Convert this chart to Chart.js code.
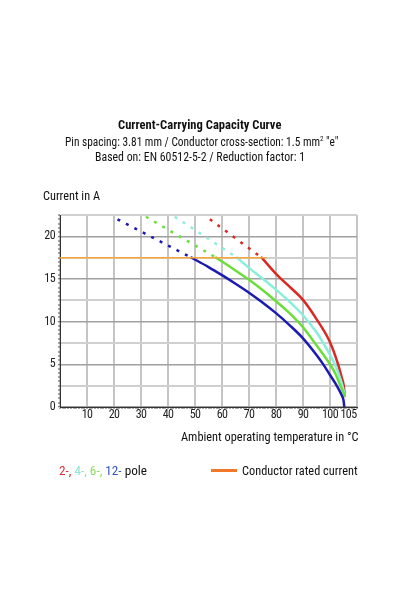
<!DOCTYPE html>
<html><head><meta charset="utf-8">
<script src="https://cdn.jsdelivr.net/npm/chart.js@4.4.1/dist/chart.umd.min.js"></script>
<style>
html,body{margin:0;padding:0;background:#fff;}
#wrap{position:relative;width:400px;height:600px;font-family:'Roboto Condensed',Roboto,'Liberation Sans',sans-serif;color:#111;}
#c{position:absolute;left:0;top:0;width:400px;height:600px;}
.t{position:absolute;white-space:nowrap;font-size:13px;line-height:16px;transform-origin:0 50%;}
</style></head><body>
<div id="wrap">
<canvas id="c" width="400" height="600"></canvas>
<span class="t" data-l="118.3" data-w="163.4" style="top:116.5px;font-weight:bold">Current-Carrying Capacity Curve</span>
<span class="t" data-l="65" data-w="273.3" style="top:134px">Pin spacing: 3.81 mm / Conductor cross-section: 1.5 mm<sup style="font-size:8px;line-height:0;vertical-align:5px">2</sup> "e"</span>
<span class="t" data-l="95" data-w="210" style="top:149px">Based on: EN 60512-5-2 / Reduction factor: 1</span>
<span class="t" data-l="43.3" data-w="57" style="top:188px">Current in A</span>
<span class="t" data-l="180.7" data-w="177.6" style="top:428.5px">Ambient operating temperature in °C</span>
<span class="t" data-l="59" data-w="88" style="top:462.5px"><span style="color:#d8303a">2-,</span> <span style="color:#8ee4d4">4-,</span> <span style="color:#88dd55">6-,</span> <span style="color:#3355bb">12-</span> pole</span>
<div style="position:absolute;left:210.7px;top:469px;width:26px;height:2.5px;background:#f07828"></div>
<span class="t" data-l="241.7" data-w="115.6" style="top:462.5px">Conductor rated current</span>
</div>
<script>
// x: ambient temperature (°C), y: current (A)
const xTickLabels = [10,20,30,40,50,60,70,80,90,100,105];
const ratedX = [0, 76.5];
const ratedY = [17.5, 17.5];

const pole2X = [74.7, 80, 85, 90, 95, 100, 103, 104.3, 105.1, 105.5];
const pole2Y = [17.5, 15.6, 14.1, 12.55, 10.3, 7.6, 5.0, 3.5, 2.5, 1.3];
const pole4X = [65.6, 70, 75, 80, 85, 90, 95, 97.5, 100, 101.8, 103.5, 104.6, 105.5];
const pole4Y = [17.5, 16.3, 15.05, 13.75, 12.35, 10.75, 8.75, 7.5, 6.1, 5.0, 3.6, 2.5, 1.3];
const pole6X = [57.8, 60, 65, 70, 75, 80, 85, 90, 94.4, 97.5, 100.3, 102, 103.7, 105.5];
const pole6Y = [17.5, 17.05, 16.0, 14.9, 13.7, 12.4, 11.0, 9.35, 7.5, 6.15, 4.85, 3.9, 2.6, 1.3];
const pole12X = [48.7, 55, 60, 65, 70, 75, 80, 85, 90, 95, 97.5, 100, 102.7, 104.3, 105, 105.3];
const pole12Y = [17.5, 16.4, 15.45, 14.45, 13.4, 12.25, 11.0, 9.6, 8.05, 6.1, 5.0, 3.75, 2.4, 1.4, 0.8, 0];

const dash2X = [55.5, 74.7],  dash2Y = [22.0, 17.5];
const dash4X = [42.5, 65.6],  dash4Y = [22.3, 17.5];
const dash6X = [31.8, 57.8],  dash6Y = [22.3, 17.5];
const dash12X = [21.3, 48.7], dash12Y = [22.0, 17.5];

const C2 = '#d92a22', C4 = '#8aeedc', C6 = '#6ade3a', C12 = '#1c1ab0', CR = '#f4a63c';

// fit the condensed-looking text lines to the reference widths
document.querySelectorAll('.t[data-w]').forEach(el => {
  const w = el.getBoundingClientRect().width;
  el.style.left = el.dataset.l + 'px';
  el.style.transform = 'scaleX(' + (parseFloat(el.dataset.w) / w) + ')';
});

function pts(xs, ys){ return xs.map((x,i)=>({x:x, y:ys[i]})); }
function solid(xs, ys, color, order){
  return {data: pts(xs, ys), borderColor: color, borderWidth: 2.5, showLine: true, pointRadius: 0,
          cubicInterpolationMode: 'monotone', fill: false, order: order, borderJoinStyle: 'round', borderCapStyle: 'round'};
}
function dashed(xs, ys, color, order){
  return {data: pts(xs, ys), borderColor: color, borderWidth: 2.5, showLine: true, pointRadius: 0,
          borderDash: [3, 6.5], fill: false, order: order};
}
const near = (v, s) => Math.abs(v / s - Math.round(v / s)) < 1e-6;
const tickFont = {family: "'Roboto Condensed','DejaVu Sans Condensed','Liberation Sans Narrow',Roboto,sans-serif", size: 12};

const condensedTicks = {
  id: 'condensedTicks',
  beforeDraw(chart){
    chart.ctx.save();
    if ('letterSpacing' in chart.ctx) chart.ctx.letterSpacing = '-0.6px';
    const items = chart.scales.x.getLabelItems(chart.chartArea);
    items.forEach(it => {
      if (it.label === '105') { it.options.textAlign = 'right'; it.options.translation[0] = chart.chartArea.right - 0.5; }
    });
  },
  afterDraw(chart){ chart.ctx.restore(); }
};

new Chart(document.getElementById('c'), {
  type: 'scatter',
  plugins: [condensedTicks],
  data: { datasets: [
    {data: pts(ratedX, ratedY), borderColor: CR, borderWidth: 1.5, showLine: true, pointRadius: 0, order: 1},
    solid(pole12X, pole12Y, C12, 2), dashed(dash12X, dash12Y, C12, 2),
    solid(pole6X, pole6Y, C6, 3), dashed(dash6X, dash6Y, C6, 3),
    solid(pole4X, pole4Y, C4, 4), dashed(dash4X, dash4Y, C4, 4),
    solid(pole2X, pole2Y, C2, 5), dashed(dash2X, dash2Y, C2, 5)
  ]},
  options: {
    responsive: false, animation: false, devicePixelRatio: 1,
    layout: { padding: {left: 0, top: 215, right: 43, bottom: 173} },
    plugins: { legend: {display: false}, tooltip: {enabled: false}, title: {display: false} },
    scales: {
      x: {
        type: 'linear', min: 0, max: 110,
        afterFit: s => { s.height = 20; },
        border: {display: true, color: '#333', width: 1},
        grid: {
          color: c => near(c.tick.value, 10) ? '#c4c4c4' : 'rgba(0,0,0,0)',
          lineWidth: c => near(c.tick.value, 10) ? 2 : 0,
          tickColor: '#555', tickWidth: 1, tickLength: 2, drawTicks: true
        },
        ticks: {
          stepSize: 1, autoSkip: false, maxRotation: 0, padding: -1,
          color: '#222', font: tickFont,
          callback: v => xTickLabels.includes(v) ? String(v) : ''
        }
      },
      y: {
        type: 'linear', min: 0, max: 22.5,
        afterFit: s => { s.width = 60; },
        border: {display: true, color: '#333', width: 1},
        grid: {
          color: c => near(c.tick.value, 5) ? '#a0a0a0' : (near(c.tick.value, 2.5) ? '#d0d0d0' : 'rgba(0,0,0,0)'),
          lineWidth: c => near(c.tick.value, 5) ? 1.5 : (near(c.tick.value, 2.5) ? 2 : 0),
          tickColor: '#555', tickWidth: 1, tickLength: 2, drawTicks: true
        },
        ticks: {
          stepSize: 0.5, autoSkip: false, padding: 3,
          color: '#222', font: tickFont,
          callback: v => near(v, 5) ? String(Math.round(v)) : ''
        }
      }
    }
  }
});
</script>
</body></html>
